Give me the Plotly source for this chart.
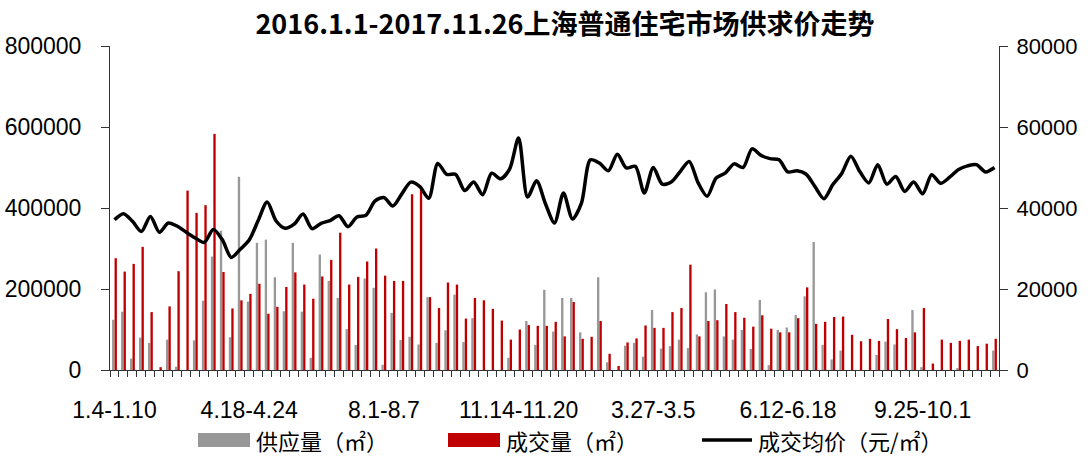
import datetime as dt
import plotly.graph_objects as go
from plotly.subplots import make_subplots

# ---- data -------------------------------------------------------------
start = dt.date(2016, 1, 4)
weeks = []
for k in range(99):
    a = start + dt.timedelta(days=7 * k)
    b = a + dt.timedelta(days=6)
    weeks.append(f"{a.year}.{a.month}.{a.day}-{b.month}.{b.day}")

tick_positions = [0, 15, 30, 45, 60, 75, 90]
tick_labels = ["1.4-1.10", "4.18-4.24", "8.1-8.7", "11.14-11.20",
               "3.27-3.5", "6.12-6.18", "9.25-10.1"]

supply = [124000, 144000, 28000, 80000, 67000, 0, 75000, 8000, 0, 73000,
          171000, 280000, 344000, 81000, 477000, 169000, 314000, 322000, 229000, 145000,
          314000, 144000, 30000, 285000, 220000, 178000, 101000, 62000, 226000, 203000,
          13000, 141000, 74000, 82000, 63000, 180000, 67000, 98000, 186000, 69000,
          128000, 0, 0, 0, 30000, 0, 121000, 62000, 198000, 95000,
          178000, 178000, 93000, 0, 229000, 19000, 0, 60000, 67000, 33000,
          148000, 53000, 59000, 75000, 54000, 88000, 192000, 199000, 83000, 75000,
          99000, 52000, 173000, 12000, 99000, 105000, 136000, 182000, 316000, 62000,
          26000, 48000, 0, 0, 0, 37000, 70000, 63000, 0, 148000,
          7000, 0, 0, 0, 4000, 0, 0, 0, 48000]

deals = [276000, 243000, 262000, 304000, 143000, 7000, 157000, 244000, 443000, 388000,
         407000, 583000, 242000, 152000, 172000, 188000, 213000, 139000, 156000, 205000,
         241000, 211000, 176000, 231000, 272000, 339000, 211000, 230000, 268000, 300000,
         233000, 220000, 220000, 434000, 445000, 180000, 153000, 216000, 211000, 127000,
         178000, 172000, 151000, 122000, 75000, 100000, 111000, 109000, 109000, 119000,
         83000, 168000, 77000, 82000, 121000, 40000, 10000, 68000, 78000, 110000,
         104000, 104000, 143000, 153000, 260000, 83000, 121000, 123000, 163000, 143000,
         129000, 107000, 135000, 102000, 93000, 93000, 128000, 204000, 114000, 119000,
         131000, 132000, 87000, 71000, 77000, 72000, 126000, 101000, 79000, 93000,
         153000, 16000, 75000, 67000, 72000, 75000, 59000, 65000, 77000]

price = [37100, 38600, 36700, 34200, 37900, 34000, 36300, 35500, 34000, 32600,
         31500, 34700, 32200, 27800, 29800, 32100, 36900, 41500, 36800, 35000,
         36000, 38500, 34900, 36200, 36900, 38100, 35400, 37800, 38200, 41700,
         42600, 40500, 43500, 46400, 45300, 42400, 51000, 48300, 48300, 44300,
         46400, 43300, 48600, 47200, 49600, 57300, 42700, 46700, 41000, 36300,
         43700, 37300, 41200, 51900, 51100, 49200, 53300, 49900, 50300, 43700,
         50000, 45900, 46400, 49000, 51500, 46200, 42900, 47400, 48600, 50900,
         50000, 54600, 53000, 52200, 51900, 48900, 49200, 48400, 45300, 42300,
         45800, 48600, 52800, 49000, 46200, 50700, 45900, 47800, 44100, 46400,
         43500, 48200, 46100, 47600, 49500, 50400, 50700, 48900, 50000]

names = ["供应量（㎡）", "成交量（㎡）", "成交均价（元/㎡）"]
title_text = "2016.1.1-2017.11.26上海普通住宅市场供求价走势"

GRAY = "#989898"
RED = "#c00000"
FONT = "Liberation Sans, Noto Sans CJK SC, sans-serif"
CJK = "Noto Sans CJK SC, Liberation Sans, sans-serif"

# ---- figure -----------------------------------------------------------
fig = make_subplots(specs=[[{"secondary_y": True}]])
fig.add_trace(go.Bar(x=weeks, y=supply, name=names[0], marker_color=GRAY,
                     marker_line_width=0), secondary_y=False)
fig.add_trace(go.Bar(x=weeks, y=deals, name=names[1], marker_color=RED,
                     marker_line_width=0), secondary_y=False)
fig.add_trace(go.Scatter(x=weeks, y=price, name=names[2], mode="lines",
                         line=dict(color="#000000", width=3.5, shape="spline",
                                   smoothing=0.8)), secondary_y=True)

ticktext = [""] * len(weeks)
for p, lab in zip(tick_positions, tick_labels):
    ticktext[p] = lab

L, R, T, B = 110, 89, 46, 87
W, H = 1088, 457
pw, ph = W - L - R, H - T - B

fig.update_layout(
    width=W, height=H,
    margin=dict(l=L, r=R, t=T, b=B, pad=0, autoexpand=False),
    paper_bgcolor="white", plot_bgcolor="white",
    barmode="group", bargap=0.45, bargroupgap=0.05,
    showlegend=False,
    font=dict(family=FONT, size=23, color="#000000"),
    title=dict(text="<b>" + title_text + "</b>", x=565 / W, xanchor="center",
               y=1 - 25 / H, yanchor="middle", yref="container",
               font=dict(family=CJK, size=27, color="#000000")),
)
fig.update_xaxes(type="category", tickmode="array", tickvals=weeks, ticktext=ticktext,
                 domain=[0, 1], automargin=False,
                 tickson="boundaries", ticks="outside", ticklen=6, tickcolor="#333333",
                 showline=True, linecolor="#333333", linewidth=1, showgrid=False,
                 tickangle=0, ticklabelstandoff=19,
                 tickfont=dict(family=FONT, size=23))
fig.update_yaxes(range=[0, 800000], tickvals=[0, 200000, 400000, 600000, 800000],
                 tickformat="d", ticks="outside", ticklen=8, tickcolor="#333333",
                 showline=True, linecolor="#333333", linewidth=1, showgrid=False,
                 zeroline=False, ticklabelstandoff=15, automargin=False,
                 tickfont=dict(family=FONT, size=23), secondary_y=False)
fig.update_yaxes(range=[0, 80000], tickvals=[0, 20000, 40000, 60000, 80000],
                 tickformat="d", ticks="outside", ticklen=8, tickcolor="#333333",
                 showline=True, linecolor="#333333", linewidth=1, showgrid=False,
                 zeroline=False, ticklabelstandoff=4, automargin=False,
                 tickfont=dict(family=FONT, size=22), secondary_y=True)

# ---- custom legend (wide swatches like the original) ------------------
def px2x(px):
    return (px - L) / pw

def py2y(py):
    return (H - B - py) / ph

ly = 440
shapes = [
    dict(type="rect", xref="paper", yref="paper", x0=px2x(198), x1=px2x(250),
         y0=py2y(447), y1=py2y(433), fillcolor=GRAY, line=dict(width=0)),
    dict(type="rect", xref="paper", yref="paper", x0=px2x(448), x1=px2x(500),
         y0=py2y(447), y1=py2y(433), fillcolor=RED, line=dict(width=0)),
    dict(type="line", xref="paper", yref="paper", x0=px2x(702), x1=px2x(752),
         y0=py2y(ly), y1=py2y(ly), line=dict(color="#000000", width=3.5)),
]
annos = []
for xpx, txt in zip([254, 504, 756], names):
    annos.append(dict(xref="paper", yref="paper", x=px2x(xpx), y=py2y(ly),
                      xanchor="left", yanchor="middle", text=txt, showarrow=False,
                      font=dict(family=CJK, size=22, color="#000000")))
fig.update_layout(shapes=shapes, annotations=annos)

fig.write_html("out.html", config={"displayModeBar": False},
               post_script="document.body.style.margin='0';document.body.style.overflow='hidden';")
